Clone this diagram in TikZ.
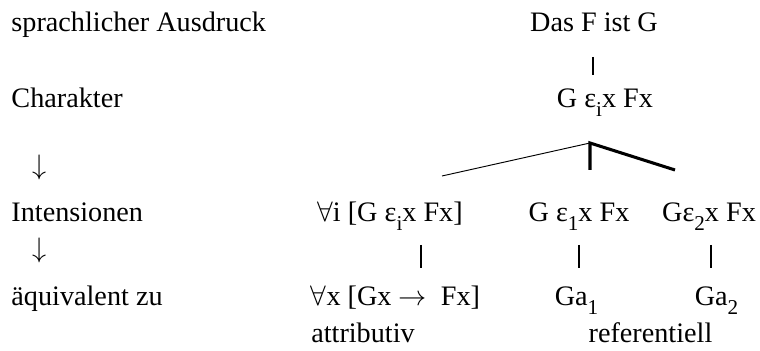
\documentclass[tikz,border=0pt]{standalone}
\usepackage{fontspec}
\setmainfont{Liberation Serif}
\usepackage{tikz}
\usetikzlibrary{calc}
\newcommand{\lowidx}[1]{\raisebox{-0.3em}{\fontsize{9}{9}\selectfont #1}}

\begin{document}
\begin{tikzpicture}[
        x=0.4255pt, y=-0.4255pt,
        rowlabel/.style={inner sep=0pt, anchor=base west,
                    font=\fontsize{12}{14}\selectfont},
        term/.style={inner sep=0pt, anchor=base,
                    font=\fontsize{12}{14}\selectfont},
        bar/.style={line width=0.45pt},
        branch/.style={line width=0.4pt},
        heavy/.style={line width=1.3pt, line join=miter}
    ]
        \useasboundingbox (0,0) rectangle (760,351);

        \node[rowlabel] (sprach) at (11,32) {sprachlicher Ausdruck};
        \node[rowlabel] (charak) at (11,108) {Charakter};
        \node[term] (pfeilA) at (40,175) {$\downarrow$};
        \node[rowlabel] (intens) at (11,222) {Intensionen};
        \node[term] (pfeilB) at (40,258) {$\downarrow$};
        \node[rowlabel] (aequiv) at (11,306) {äquivalent zu};

        \node[term] (das) at (594,32) {Das F ist G};
        \node[term] (char) at (605,108) {G ε\lowidx{i}x Fx};
        \node[term] (iall) at (390,222) {$\forall$i [G ε\lowidx{i}x Fx]};
        \node[term] (eins) at (579,222) {G ε\lowidx{1}x Fx};
        \node[term] (zwei) at (709,222) {Gε\lowidx{2}x Fx};
        \node[term] (xall) at (395.5,306) {$\forall$x [Gx $\rightarrow$\ \ Fx]};
        \node[term] (gaeins) at (576.5,306) {Ga\lowidx{1}};
        \node[term] (gazwei) at (716.5,306) {Ga\lowidx{2}};
        \node[term] (attr) at (363,343) {attributiv};
        \node[term] (refer) at (650.5,343) {referentiell};

        \coordinate (fork) at ($(char.base)+(-15,35)$);

        \draw[bar] ($(das.base)+(-1,25)$) -- ($(char.base)+(-12,-33)$);
        \draw[branch] (fork) -- ($(iall.base)+(52,-46)$);
        \draw[heavy] ($(eins.base)+(11,-52)$) -- (fork) -- ($(zwei.base)+(-34,-52)$);
        \draw[bar] ($(iall.base)+(31,23)$) -- ($(xall.base)+(25.5,-38)$);
        \draw[bar] ($(eins.base)+(0,23)$) -- ($(gaeins.base)+(2.5,-38)$);
        \draw[bar] ($(zwei.base)+(2,23)$) -- ($(gazwei.base)+(-5.5,-38)$);
    \end{tikzpicture}
\end{document}
